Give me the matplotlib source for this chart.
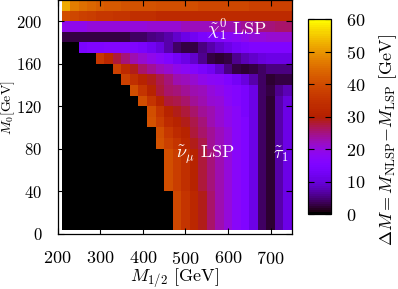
import numpy as np
import matplotlib
matplotlib.use("Agg")
import matplotlib.pyplot as plt

plt.rcParams['font.family'] = 'serif'
plt.rcParams['font.serif'] = ['cmr10']
plt.rcParams['mathtext.fontset'] = 'cm'
plt.rcParams['axes.formatter.use_mathtext'] = True

nan = np.nan

## grid of the scan (cell centres, GeV) ##
m12 = np.arange(220, 741, 20)   # M_1/2
m0 = np.arange(215, 4, -10)     # M_0, top row first

## Delta M [GeV], nan = excluded (black) ##
dm = [
    [52, 47, 45, 44, 43, 42, 42, 41, 41, 41, 41, 40, 40, 40, 40, 40, 39, 39, 39, 39, 39, 39, 38, 38, 38, 38, 38],  # 215
    [40, 39, 38, 37, 36, 36, 35, 35, 34, 34, 34, 33, 33, 33, 33, 33, 33, 33, 33, 33, 33, 33, 33, 33, 33, 33, 33],  # 205
    [19, 19, 19, 20, 20, 20, 20, 20, 20, 20, 21, 21, 21, 21, 22, 22, 22, 22, 23, 23, 23, 24, 24, 25, 25, 26, 26],  # 195
    [3, 3, 3, 3, 3, 3, 3, 3, 4, 4, 5, 6, 7, 9, 11, 12, 14, 15, 16, 17, 18, 19, 20, 20, 21, 21, 21],  # 185
    [nan, nan, 14, 15, 15, 16, 16, 16, 15, 14, 12, 10, 7, 4, 3, 3, 5, 7, 9, 11, 13, 14, 15, 15, 15, 15, 15],  # 175
    [nan, nan, nan, nan, 36, 32, 28, 25, 23, 21, 19, 17, 15, 13, 11, 9, 6, 3, 2, 3, 6, 8, 9, 10, 11, 11, 11],  # 165
    [nan, nan, nan, nan, nan, nan, 38, 33, 29, 26, 24, 22, 21, 19, 18, 16, 14, 12, 9, 5, 3, 2, 3, 4, 5, 5, 5],  # 155
    [nan, nan, nan, nan, nan, nan, nan, 38, 34, 31, 29, 27, 25, 23, 22, 21, 19, 18, 17, 15, 13, 10, 7, 4, 2, 3, 3],  # 145
    [nan, nan, nan, nan, nan, nan, nan, nan, 40, 35, 31, 28, 26, 25, 24, 23, 22, 20, 19, 17, 16, 14, 11, 4, 3, 6, 8],  # 135
    [nan, nan, nan, nan, nan, nan, nan, nan, nan, 40, 35, 31, 28, 27, 26, 24, 23, 21, 20, 18, 16, 14, 11, 4, 2, 7, 10],  # 125
    [nan, nan, nan, nan, nan, nan, nan, nan, nan, nan, 40, 35, 31, 29, 28, 26, 24, 23, 21, 19, 17, 14, 11, 4, 2, 7, 11],  # 115
    [nan, nan, nan, nan, nan, nan, nan, nan, nan, nan, 41, 37, 33, 31, 29, 27, 25, 23, 21, 19, 17, 15, 11, 4, 2, 7, 11],  # 105
    [nan, nan, nan, nan, nan, nan, nan, nan, nan, nan, nan, 40, 36, 33, 31, 28, 26, 24, 22, 20, 17, 15, 11, 4, 2, 7, 11],  # 95
    [nan, nan, nan, nan, nan, nan, nan, nan, nan, nan, nan, 41, 38, 35, 32, 29, 27, 24, 22, 20, 17, 15, 11, 4, 2, 7, 11],  # 85
    [nan, nan, nan, nan, nan, nan, nan, nan, nan, nan, nan, nan, 40, 37, 34, 31, 28, 25, 23, 20, 17, 15, 11, 4, 2, 7, 11],  # 75
    [nan, nan, nan, nan, nan, nan, nan, nan, nan, nan, nan, nan, 40, 37, 34, 31, 28, 25, 23, 20, 17, 15, 11, 4, 2, 7, 11],  # 65
    [nan, nan, nan, nan, nan, nan, nan, nan, nan, nan, nan, nan, 40, 37, 34, 31, 28, 25, 23, 20, 17, 15, 11, 4, 2, 7, 11],  # 55
    [nan, nan, nan, nan, nan, nan, nan, nan, nan, nan, nan, nan, 40, 37, 34, 31, 28, 25, 23, 20, 17, 15, 11, 4, 2, 7, 11],  # 45
    [nan, nan, nan, nan, nan, nan, nan, nan, nan, nan, nan, nan, nan, 39, 35, 32, 29, 26, 23, 20, 17, 15, 11, 4, 2, 7, 11],  # 35
    [nan, nan, nan, nan, nan, nan, nan, nan, nan, nan, nan, nan, nan, 39, 35, 32, 29, 26, 23, 20, 17, 15, 11, 4, 2, 7, 11],  # 25
    [nan, nan, nan, nan, nan, nan, nan, nan, nan, nan, nan, nan, nan, 39, 35, 32, 29, 26, 23, 20, 17, 15, 11, 4, 2, 7, 11],  # 15
    [nan, nan, nan, nan, nan, nan, nan, nan, nan, nan, nan, nan, nan, 39, 35, 32, 29, 26, 23, 20, 17, 15, 11, 4, 2, 7, 11],  # 5
]

xticks = [200, 300, 400, 500, 600, 700]
yticks = [0, 40, 80, 120, 160, 200]
cticks = [0, 10, 20, 30, 40, 50, 60]

Z = np.array(dm, dtype=float)[::-1]  # bottom row first
x_edges = np.append(m12 - 10, m12[-1] + 10)
y_edges = np.append(m0[::-1] - 5, m0[0] + 5)
y_edges[0] = 3  # scan starts a little above 0

cmap = plt.get_cmap('gnuplot').resampled(96)
cmap.set_bad('black')

fig = plt.figure(figsize=(3.98, 2.89), dpi=100)
ax = fig.add_axes([0.1445, 0.192, 0.589, 0.808])
mesh = ax.pcolormesh(x_edges, y_edges, np.ma.masked_invalid(Z), cmap=cmap, vmin=0, vmax=60)

ax.set_xlim(200, 750)
ax.set_ylim(0, 220)
ax.set_xticks(xticks)
ax.set_yticks(yticks)
ax.tick_params(direction='in', top=True, right=True, length=4, width=0.8, labelsize=13)
ax.tick_params(axis='x', pad=12)
ax.tick_params(axis='y', pad=11, labelsize=12)
for s in ax.spines.values():
    s.set_linewidth(0.9)

# region labels
ax.text(622, 191, r'$\tilde{\chi}_1^0$ LSP', color='white', ha='center', va='center', fontsize=13)
ax.text(547, 74, r'$\tilde{\nu}_\mu$ LSP', color='white', ha='center', va='center', fontsize=13)
ax.text(724, 75, r'$\tilde{\tau}_1$', color='white', ha='center', va='center', fontsize=13)

fig.text(175/398, 1 - 278/289, r'$M_{1/2}$ [GeV]', ha='center', va='center', fontsize=13)
fig.text(8.5/398, 1 - 108/289, r'$M_0$[GeV]', ha='center', va='center', rotation=90, fontsize=10)

cax = fig.add_axes([0.7746, 0.2595, 0.0563, 0.6737])
cb = fig.colorbar(mesh, cax=cax)
cb.set_ticks(cticks)
cax.tick_params(direction='in', left=True, right=True, length=4, width=0.8, labelsize=13, pad=11)
cb.outline.set_linewidth(0.9)
fig.text(388/398, 1 - 140/289, r'$\Delta M = M_{\rm NLSP}{-}M_{\rm LSP}$ [GeV]',
         ha='center', va='center', rotation=90, fontsize=13)

fig.savefig('out.png', dpi=100)
